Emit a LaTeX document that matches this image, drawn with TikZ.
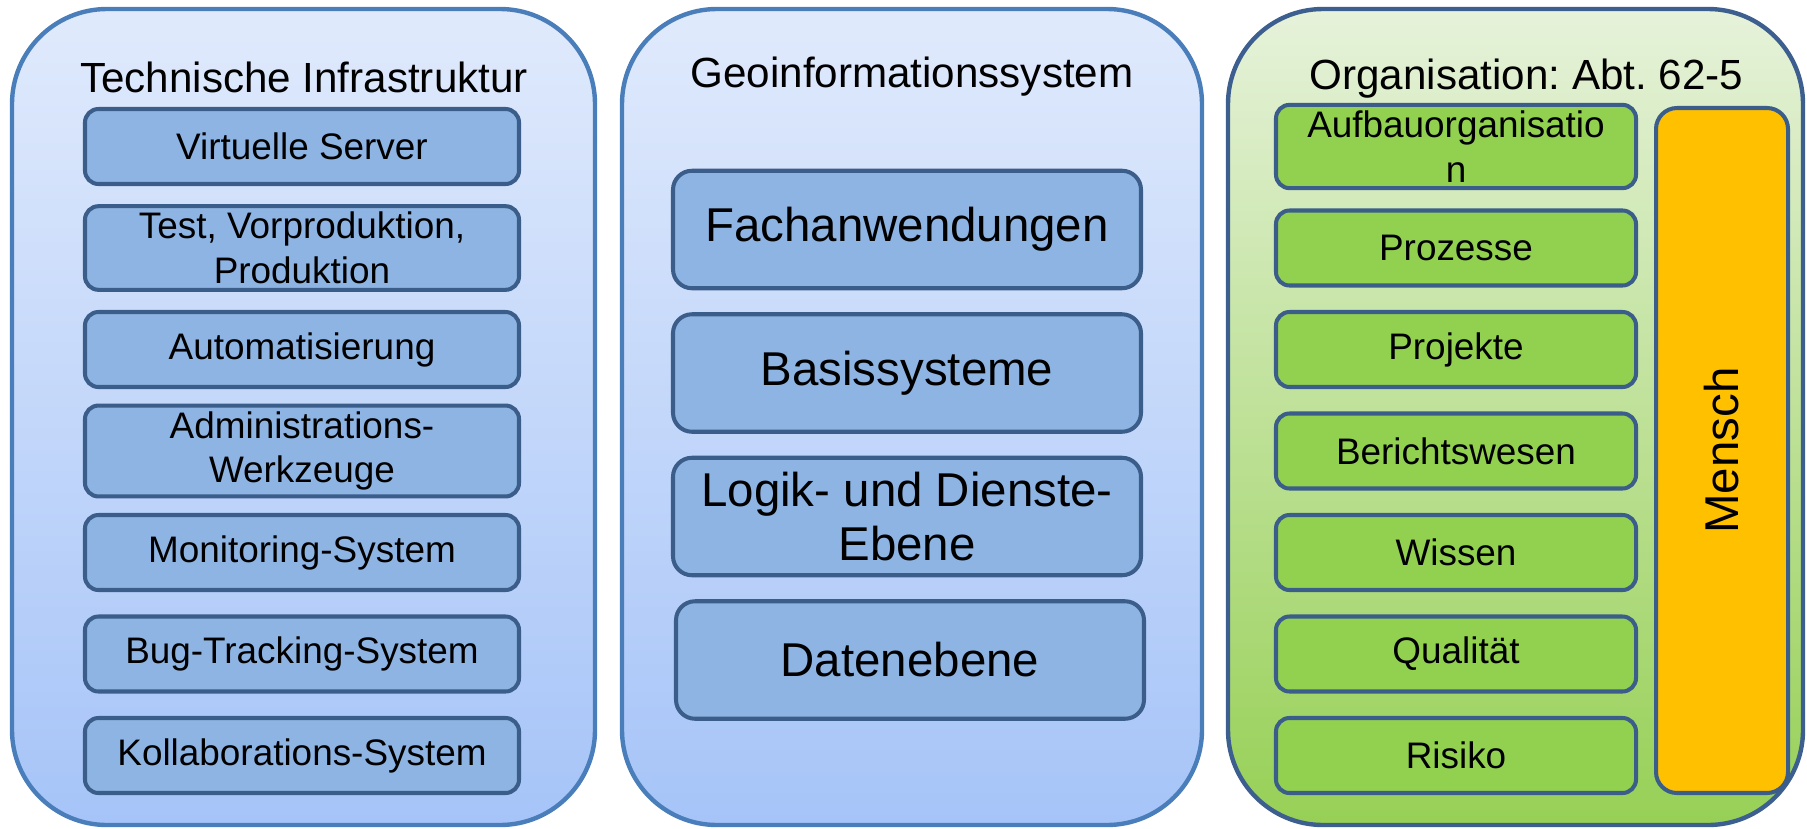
\documentclass[tikz,border=0pt]{standalone}
\usepackage{fontspec}
\setmainfont{Liberation Sans}
\usetikzlibrary{positioning}
\frenchspacing
\definecolor{paneltop}{HTML}{E0EAFC}
\definecolor{panelbottom}{HTML}{A6C4F8}
\definecolor{panelline}{HTML}{4A7EBB}
\definecolor{greentop}{HTML}{E6F2DA}
\definecolor{greenbottom}{HTML}{97D056}
\definecolor{orgline}{HTML}{3D5F8F}
\definecolor{boxline}{HTML}{3B5D8A}
\definecolor{boxblue}{HTML}{8EB4E3}
\definecolor{boxgreen}{HTML}{92D050}
\definecolor{menschfill}{HTML}{FFC000}

\begin{document}
\begin{tikzpicture}
%define
\tikzstyle{title} = [text centered, font=\fontsize{24}{29}\selectfont]
\tikzstyle{infra} = [rectangle, rounded corners=0.27cm, minimum width=8.68cm, minimum height=1.5cm, text centered, align=center, draw=boxline, line width=2.3pt, fill=boxblue, font=\fontsize{21}{25.5}\selectfont]
\tikzstyle{org} = [infra, minimum width=7.2cm, fill=boxgreen]
\tikzstyle{gis} = [rectangle, rounded corners=0.38cm, minimum width=9.36cm, minimum height=2.35cm, text centered, align=center, draw=boxline, line width=2.3pt, fill=boxblue, font=\fontsize{27}{31}\selectfont]
\tikzstyle{mensch} = [rectangle, rounded corners=0.42cm, minimum width=13.7cm, minimum height=2.64cm, text centered, draw=boxline, line width=2.3pt, fill=menschfill, font=\fontsize{27}{31}\selectfont, rotate=90]

\useasboundingbox (0,0) rectangle (36.14,-16.56);

%block1
\draw[top color=paneltop, bottom color=panelbottom, draw=panelline, line width=2.5pt, rounded corners=1.9cm](0.24,-0.18)rectangle(11.9,-16.5);
%block2
\draw[top color=paneltop, bottom color=panelbottom, draw=panelline, line width=2.5pt, rounded corners=1.9cm](12.44,-0.18)rectangle(24.04,-16.5);
%block3
\draw[top color=greentop, bottom color=greenbottom, draw=orgline, line width=2.5pt, rounded corners=1.9cm](24.56,-0.18)rectangle(36.06,-16.5);

%titles
\node[title](infratitle) at (6.08,-1.54){Technische Infrastruktur};
\node[title](gistitle) at (18.24,-1.54){Geoinformationssystem};
\node[title](orgtitle) at (30.53,-1.58){Organisation: Abt. 62-5};

%infrastructure
\node[infra](server) at (6.04,-2.93){Virtuelle Server};
\node[infra, below of = server, node distance = 2.03cm](stages){Test, Vorproduktion,\\Produktion};
\node[infra, below of = stages, node distance = 2.03cm](auto){Automatisierung};
\node[infra, below of = auto, node distance = 2.03cm](admin){Administrations-\\Werkzeuge};
\node[infra, below of = admin, node distance = 2.03cm](monitor){Monitoring-System};
\node[infra, below of = monitor, node distance = 2.03cm](bugs){Bug-Tracking-System};
\node[infra, below of = bugs, node distance = 2.03cm](collab){Kollaborations-System};

%gis
\node[gis](apps) at (18.14,-4.59){Fachanwendungen};
\node[gis, below of = apps, node distance = 2.87cm](base){Basissysteme};
\node[gis, below of = base, node distance = 2.87cm](logic){Logik- und Dienste-\\Ebene};
\node[gis, below of = logic, node distance = 2.87cm, xshift = 0.06cm](data){Datenebene};

%organisation
\node[org](struct) at (29.12,-2.93){Aufbauorganisatio\\n};
\node[org, below of = struct, node distance = 2.03cm](process){Prozesse};
\node[org, below of = process, node distance = 2.03cm](project){Projekte};
\node[org, below of = project, node distance = 2.03cm](report){Berichtswesen};
\node[org, below of = report, node distance = 2.03cm](know){Wissen};
\node[org, below of = know, node distance = 2.03cm](quality){Qualität};
\node[org, below of = quality, node distance = 2.03cm](risk){Risiko};
\node[mensch](human) at (34.44,-9.01){Mensch};

\end{tikzpicture}
\end{document}
